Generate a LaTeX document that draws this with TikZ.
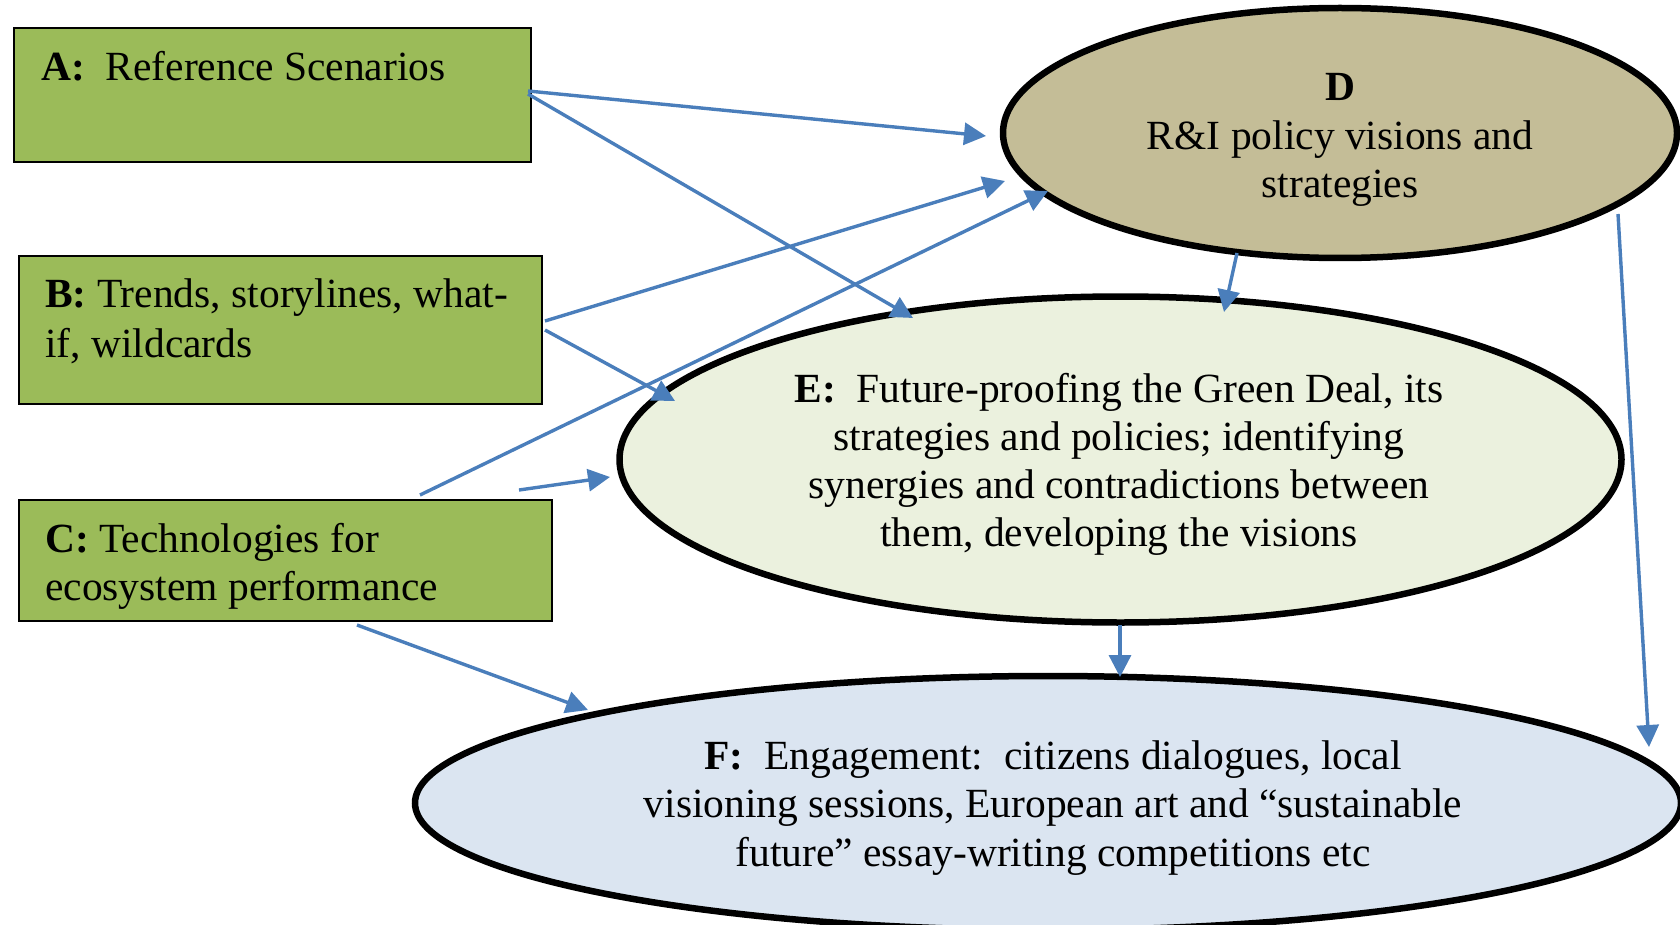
\documentclass[tikz,border=0pt]{standalone}
\usepackage{fontspec}
\setmainfont{Liberation Serif}
\usetikzlibrary{shapes.geometric,arrows.meta,calc}
\definecolor{boxgreen}{HTML}{9BBB59}
\definecolor{dfill}{HTML}{C4BD97}
\definecolor{efill}{HTML}{EBF1DE}
\definecolor{ffill}{HTML}{DBE5F1}
\definecolor{arrowblue}{HTML}{4A7EBB}
\begin{document}
\begin{tikzpicture}[x=1pt,y=-1pt,
  greenbox/.style={draw=black, line width=1.8pt, fill=boxgreen, inner sep=0pt},
  ell/.style={ellipse, draw=black, line width=6.5pt, inner sep=0pt},
  txt/.style={font=\fontsize{41.5}{48}\selectfont, inner sep=0pt, anchor=base},
  ltxt/.style={txt, anchor=base west},
  arr/.style={draw=arrowblue, line width=3.4pt, -{Triangle[length=22pt,width=22pt]}}]
\useasboundingbox (0,0) rectangle (1680,925);
% ellipses
\node[ell, fill=dfill, minimum width=674pt, minimum height=250pt] (D) at (1340,133) {};
\node[ell, fill=efill, minimum width=1002pt, minimum height=326pt] (E) at (1120.5,459.5) {};
\node[ell, fill=ffill, minimum width=1266pt, minimum height=254pt] (F) at (1048,803) {};
% boxes
\node[greenbox, minimum width=517pt, minimum height=134pt] (A) at (272.5,95) {};
\node[greenbox, minimum width=523pt, minimum height=148pt] (B) at (280.5,330) {};
\node[greenbox, minimum width=533pt, minimum height=121pt] (C) at (285.5,560.5) {};
% box texts
\node[ltxt] (A1) at (41,81) {\textbf{A:}\ \ Reference Scenarios};
\node[ltxt] (B1) at (45,307) {\textbf{B:} Trends, storylines, what-};
\node[ltxt] (B2) at (45,357) {if, wildcards};
\node[ltxt] (C1) at (45,552) {\textbf{C:} Technologies for};
\node[ltxt] (C2) at (45,600) {ecosystem performance};
% ellipse texts
\node[txt] (D1) at (1340,101) {\textbf{D}};
\node[txt] (D2) at (1340,150) {R\&I policy visions and};
\node[txt] (D3) at (1340,198) {strategies};
\node[txt] (E1) at (1119,402) {\textbf{E:}\ \ Future-proofing the Green Deal, its};
\node[txt] (E2) at (1119,450) {strategies and policies; identifying};
\node[txt] (E3) at (1119,498) {synergies and contradictions between};
\node[txt] (E4) at (1119,546) {them, developing the visions};
\node[txt] (F1) at (1053,769) {\textbf{F:}\ \ Engagement:\ \ citizens dialogues, local};
\node[txt] (F2) at (1053,817) {visioning sessions, European art and “sustainable};
\node[txt] (F3) at (1053,866) {future” essay-writing competitions etc};
% connectors
\draw[arr] ($(A.center)+(255.5,-4)$) -- ($(D.center)+(-354,3)$);
\draw[arr] ($(A.center)+(255.5,-1)$) -- ($(E.center)+(-207.5,-141.5)$);
\draw[arr] ($(B.center)+(264.5,-9)$) -- ($(D.center)+(-335,48)$);
\draw[arr] ($(B.center)+(264.5,0)$) -- ($(E.center)+(-445.5,-58.5)$);
\draw[arr] ($(C.center)+(134.5,-65.5)$) -- ($(D.center)+(-292,58)$);
\draw[arr] ($(C.center)+(233.5,-70.5)$) -- ($(E.center)+(-510.5,17.5)$);
\draw[arr] ($(C.center)+(71.5,64.5)$) -- ($(F.center)+(-460,-93)$);
\draw[arr] ($(D.center)+(-103,120)$) -- ($(E.center)+(103.5,-147.5)$);
\draw[arr] ($(E.center)+(-0.5,165.5)$) -- ($(F.center)+(72,-126)$);
\draw[arr] ($(D.center)+(278,81)$) -- ($(F.center)+(601,-56)$);
\end{tikzpicture}
\end{document}
